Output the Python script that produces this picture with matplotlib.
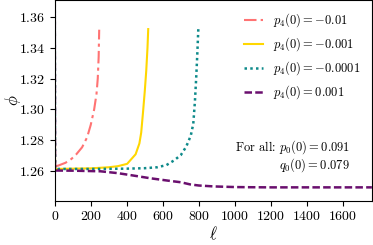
import numpy as np
import matplotlib
matplotlib.use("Agg")
import matplotlib.pyplot as plt

plt.rcParams['font.family'] = 'serif'
plt.rcParams['font.serif'] = ['cmr10']
plt.rcParams['mathtext.fontset'] = 'cm'
plt.rcParams['axes.formatter.use_mathtext'] = True

# p4(0) = -0.01
ell_a = [0, 2, 20, 60, 93, 120, 152, 180, 200, 219, 232, 239, 244, 247]
phi_a = [1.40, 1.2632, 1.2637, 1.2655, 1.268, 1.271, 1.2755, 1.282, 1.290,
         1.300, 1.310, 1.320, 1.334, 1.3516]
# p4(0) = -0.001
ell_b = [0, 2, 100, 200, 300, 350, 402, 449, 470, 480, 490, 500, 508, 515, 519]
phi_b = [1.40, 1.2615, 1.2617, 1.2619, 1.2626, 1.2633, 1.2648, 1.271, 1.278,
         1.285, 1.298, 1.312, 1.325, 1.340, 1.352]
# p4(0) = -0.0001
ell_c = [0, 2, 200, 400, 500, 569, 620, 662, 700, 730, 755, 769, 778, 785, 791, 797]
phi_c = [1.40, 1.2615, 1.2615, 1.2617, 1.2620, 1.2626, 1.2640, 1.267, 1.2705,
         1.276, 1.283, 1.2907, 1.305, 1.320, 1.335, 1.352]
# p4(0) = 0.001
ell_d = [0, 2, 100, 254, 350, 439, 530, 625, 700, 752, 800, 884, 1000, 1070, 1200, 1760]
phi_d = [1.40, 1.2605, 1.2604, 1.2600, 1.2588, 1.2572, 1.2555, 1.2540, 1.2529,
         1.2515, 1.2508, 1.2502, 1.2498, 1.2497, 1.2496, 1.2496]

labels = [r'$p_4(0) = -0.01$', r'$p_4(0) = -0.001$',
          r'$p_4(0) = -0.0001$', r'$p_4(0) = 0.001$']

fig = plt.figure(figsize=(3.73, 2.45), dpi=100)
ax = fig.add_axes([0.1466, 0.181, 0.8504, 0.817])

ax.plot(ell_a, phi_a, color='#ff7373', lw=1.5, ls=(0, (6, 2, 1.5, 2)), label=labels[0])
ax.plot(ell_b, phi_b, color='#ffd700', lw=1.5, ls='-', label=labels[1])
ax.plot(ell_c, phi_c, color='#0e8a8a', lw=1.8, ls=(0, (1, 1.3)), label=labels[2])
ax.plot(ell_d, phi_d, color='#6a0f6e', lw=1.8, ls=(0, (3, 1.3)), label=labels[3])

ax.set_xlim(0, 1760)
ax.set_ylim(1.241, 1.3705)
ax.set_xticks(np.arange(0, 1700, 200))
ax.set_yticks([1.26, 1.28, 1.30, 1.32, 1.34, 1.36])
ax.tick_params(labelsize=10)
ax.set_xlabel(r'$\ell$', fontsize=12)
ax.set_ylabel(r'$\phi$', fontsize=12)
ax.yaxis.set_label_coords(-0.10, 0.5)
ax.xaxis.set_label_coords(0.5, -0.12)

ax.legend(loc='upper right', frameon=False, fontsize=9, handlelength=1.5)

ax.text(0.931, 0.224, 'For all: $p_0(0) = 0.091$\n$q_0(0) = 0.079$',
        transform=ax.transAxes, ha='right', va='center', multialignment='right',
        fontsize=9, linespacing=1.05)

fig.savefig('out.png', dpi=100)
